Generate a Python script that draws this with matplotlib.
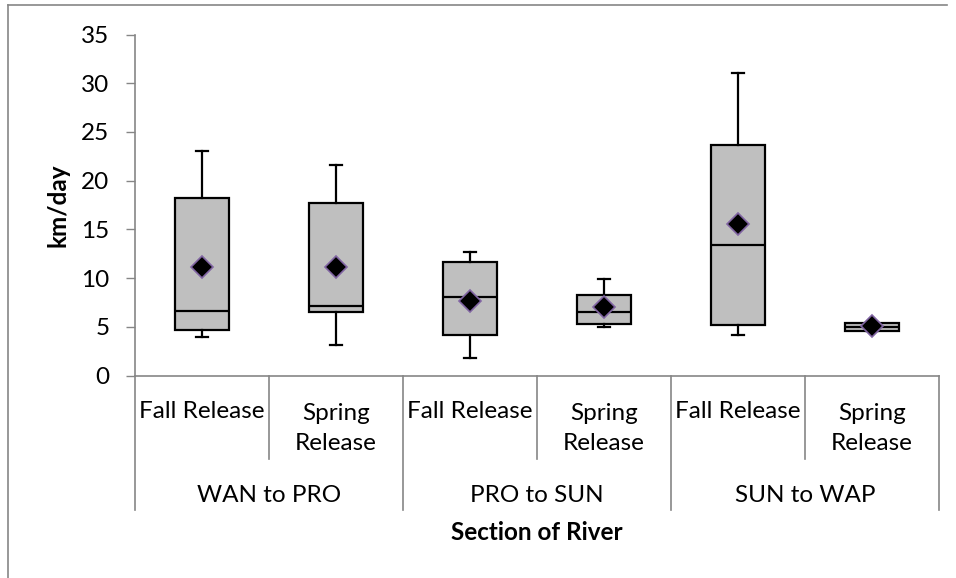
import matplotlib
matplotlib.use("Agg")
import matplotlib.pyplot as plt
from matplotlib.lines import Line2D
import matplotlib.transforms as mtransforms

plt.rcParams['font.family'] = ['Lato', 'DejaVu Sans']

# Release groups along the river
sections = ["WAN to PRO", "PRO to SUN", "SUN to WAP"]
releases = ["Fall Release", "Spring\nRelease"]

# Box statistics (km/day), one entry per section/release pair
whisker_low = [4.0, 3.1, 1.8, 4.95, 4.2, 4.6]
q1 = [4.65, 6.55, 4.15, 5.3, 5.2, 4.6]
median = [6.65, 7.15, 8.1, 6.5, 13.4, 5.0]
q3 = [18.25, 17.7, 11.6, 8.25, 23.7, 5.35]
whisker_high = [23.05, 21.6, 12.7, 9.95, 31.0, 5.35]
mean = [11.1, 11.1, 7.65, 7.05, 15.5, 5.05]

y_ticks = [0, 5, 10, 15, 20, 25, 30, 35]

FS = 17.5
W, H = 956, 578
fig = plt.figure(figsize=(W / 100, H / 100), dpi=100)
ax = fig.add_axes([135 / W, 1 - 375.5 / H, (939 - 135) / W, (375.5 - 34.5) / H])

grey = "#868686"
stats = []
for i in range(len(median)):
    stats.append(dict(med=median[i], q1=q1[i], q3=q3[i],
                      whislo=whisker_low[i], whishi=whisker_high[i],
                      mean=mean[i], fliers=[]))

positions = list(range(len(stats)))
ax.bxp(stats, positions=positions, widths=0.4, patch_artist=True,
       showmeans=True, showfliers=False,
       boxprops=dict(facecolor="#BFBFBF", edgecolor="black", linewidth=1.6),
       medianprops=dict(color="black", linewidth=1.6),
       whiskerprops=dict(color="black", linewidth=1.6),
       capprops=dict(color="black", linewidth=1.6),
       capwidths=0.09,
       meanprops=dict(marker="D", markerfacecolor="black",
                      markeredgecolor="#8064A2", markersize=11,
                      markeredgewidth=1.2))

ax.set_xlim(-0.5, len(stats) - 0.5)
ax.set_ylim(0, 35)
ax.set_yticks(y_ticks)
ax.tick_params(axis="y", direction="out", length=6.5, width=1, color=grey,
               pad=12, labelsize=FS)
ax.set_xticks([])
for side in ("top", "right"):
    ax.spines[side].set_visible(False)
for side in ("left", "bottom"):
    ax.spines[side].set_color(grey)
    ax.spines[side].set_linewidth(1.2)

ax.set_ylabel("km/day", fontsize=FS, fontweight="bold", labelpad=8)

# Two-level category axis: release row and section row
trans = mtransforms.blended_transform_factory(ax.transData, ax.transAxes)
short_end = -(459 - 375.5) / 341
long_end = -(510 - 375.5) / 341
for k in range(len(stats) + 1):
    x = k - 0.5
    end = long_end if k % 2 == 0 else short_end
    ax.add_line(Line2D([x, x], [0, end], transform=trans, color=grey,
                       linewidth=1.2, clip_on=False))

row1 = -(411 - 375.5) / 341
row2 = -(428.5 - 375.5) / 341
for i in range(len(stats)):
    lab = releases[i % 2]
    yy = row1 if "\n" not in lab else row2
    ax.text(i, yy, lab, transform=trans, ha="center", va="center",
            fontsize=FS, linespacing=1.55)

row3 = -(495 - 375.5) / 341
for g, name in enumerate(sections):
    ax.text(2 * g + 0.5, row3, name, transform=trans, ha="center",
            va="center", fontsize=FS)

ax.text(2.5, -(532 - 375.5) / 341, "Section of River", transform=trans,
        ha="center", va="center", fontsize=FS, fontweight="bold")

# Chart area border (left and top edges)
fig.add_artist(Line2D([8 / W, 8 / W], [0, 1 - 5 / H], transform=fig.transFigure,
                      color=grey, linewidth=1.2))
fig.add_artist(Line2D([8 / W, 947 / W], [1 - 5 / H, 1 - 5 / H],
                      transform=fig.transFigure, color=grey, linewidth=1.2))

fig.savefig("out.png", dpi=100)
